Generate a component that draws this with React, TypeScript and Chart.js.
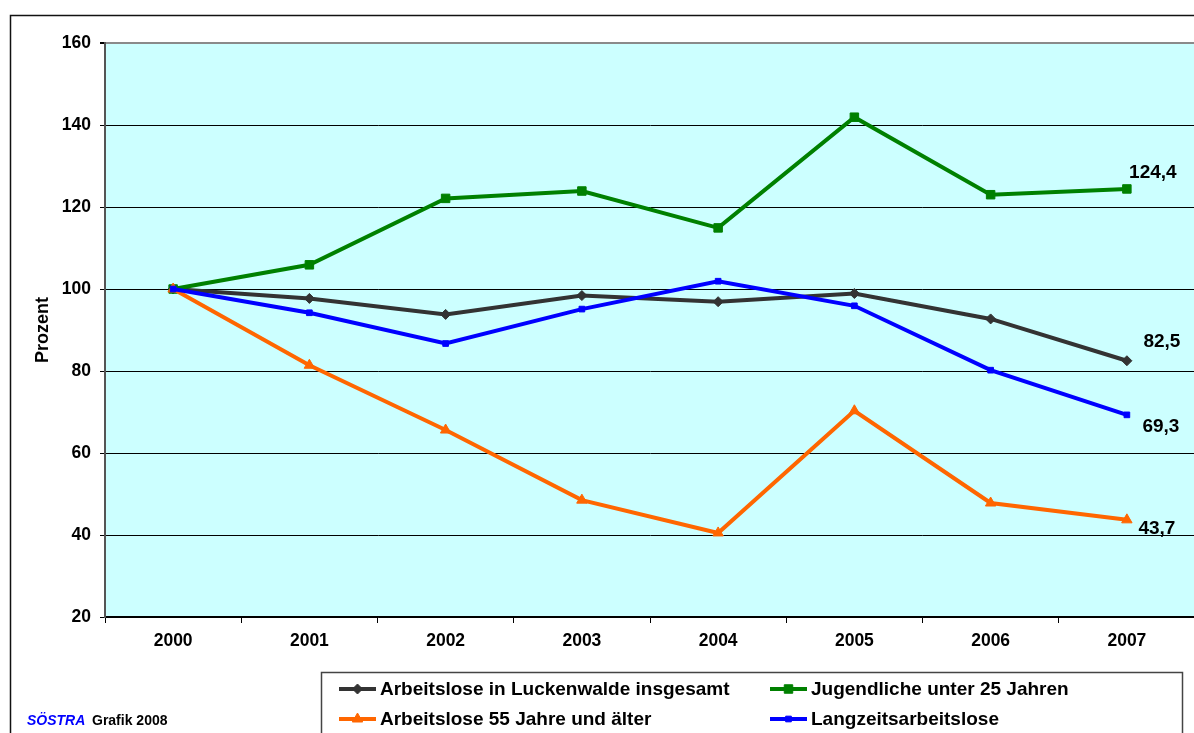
import React, { useEffect, useRef } from "react";
import { Chart, registerables } from "chart.js";

Chart.register(...registerables);

const years = ["2000", "2001", "2002", "2003", "2004", "2005", "2006", "2007"];
const totalValues = [100, 97.7, 93.8, 98.4, 96.9, 98.9, 92.7, 82.5];
const youthValues = [100, 105.9, 122.1, 123.9, 114.9, 141.9, 123.0, 124.4];
const olderValues = [100, 81.4, 65.6, 48.5, 40.5, 70.3, 47.8, 43.7];
const longTermValues = [100, 94.2, 86.7, 95.1, 101.9, 95.9, 80.2, 69.3];
const seriesLabels = [
  "Arbeitslose in Luckenwalde insgesamt",
  "Jugendliche unter 25 Jahren",
  "Arbeitslose 55 Jahre und älter",
  "Langzeitsarbeitslose",
];
const yMin = 20;
const yMax = 160;
const yStep = 20;
const yTitle = "Prozent";
const footBrand = "SÖSTRA";
const footText = "Grafik 2008";

const FONT = "'Liberation Sans', Arial, sans-serif";

const seriesStyles = [
  { color: "#333333", pointStyle: "rectRot", radius: 5, labelDx: 35, labelDy: -19 },
  { color: "#008000", pointStyle: "rect", radius: 6, labelDx: 26, labelDy: -16 },
  { color: "#FF6600", pointStyle: "triangle", radius: 6, labelDx: 30, labelDy: 9 },
  { color: "#0000FF", pointStyle: "rect", radius: 4, labelDx: 34, labelDy: 12 },
];
const drawOrder = [3, 2, 1, 0];

function drawMarker(ctx: CanvasRenderingContext2D, style: string, r: number, x: number, y: number, color: string) {
  ctx.save();
  ctx.fillStyle = color;
  ctx.strokeStyle = color;
  ctx.lineWidth = 1;
  ctx.beginPath();
  if (style === "rectRot") {
    ctx.moveTo(x, y - r);
    ctx.lineTo(x + r, y);
    ctx.lineTo(x, y + r);
    ctx.lineTo(x - r, y);
    ctx.closePath();
  } else if (style === "triangle") {
    const h = r * 1.5;
    const s = r * Math.sqrt(3);
    ctx.moveTo(x, y - r);
    ctx.lineTo(x + s / 2, y - r + h);
    ctx.lineTo(x - s / 2, y - r + h);
    ctx.closePath();
  } else {
    const s = Math.SQRT1_2 * r;
    ctx.rect(x - s, y - s, 2 * s, 2 * s);
  }
  ctx.fill();
  ctx.stroke();
  ctx.restore();
}

const decorPlugin = {
  id: "decor",
  beforeDraw(chart: any) {
    const { ctx, chartArea } = chart;
    ctx.save();
    ctx.fillStyle = "#CCFFFF";
    ctx.fillRect(chartArea.left, chartArea.top, chartArea.right - chartArea.left, chartArea.bottom - chartArea.top);
    ctx.restore();
  },
  afterDatasetsDraw(chart: any) {
    const { ctx } = chart;
    ctx.save();
    ctx.font = `bold 19px ${FONT}`;
    ctx.fillStyle = "#000";
    ctx.textAlign = "center";
    ctx.textBaseline = "middle";
    chart.data.datasets.forEach((ds: any, i: number) => {
      const meta = chart.getDatasetMeta(i);
      const n = meta.data.length;
      const pt = meta.data[n - 1];
      const v = ds.data[n - 1] as number;
      const st = seriesStyles[i];
      ctx.fillText(v.toFixed(1).replace(".", ","), pt.x + st.labelDx, pt.y + st.labelDy);
    });
    ctx.restore();
  },
  afterDraw(chart: any) {
    const { ctx } = chart;
    ctx.save();
    // outer frame
    ctx.strokeStyle = "#111";
    ctx.lineWidth = 1.5;
    ctx.beginPath();
    ctx.moveTo(10.5, 740);
    ctx.lineTo(10.5, 15.5);
    ctx.lineTo(1210, 15.5);
    ctx.stroke();

    // legend box
    ctx.strokeStyle = "#444";
    ctx.lineWidth = 1.5;
    ctx.strokeRect(321.5, 672.5, 861, 80);

    const cols = [339, 770];
    const rows = [689, 719];
    ctx.font = `bold 19px ${FONT}`;
    ctx.textAlign = "left";
    ctx.textBaseline = "middle";
    chart.data.datasets.forEach((ds: any, i: number) => {
      const x = cols[i % 2];
      const y = rows[Math.floor(i / 2)];
      const st = seriesStyles[i];
      ctx.strokeStyle = st.color;
      ctx.lineWidth = 4;
      ctx.beginPath();
      ctx.moveTo(x, y);
      ctx.lineTo(x + 37, y);
      ctx.stroke();
      drawMarker(ctx, st.pointStyle, st.radius, x + 18.5, y, st.color);
      ctx.fillStyle = "#000";
      ctx.fillText(ds.label, x + 41, y + 1);
    });

    // footnote
    ctx.textBaseline = "middle";
    ctx.font = `italic bold 14px ${FONT}`;
    ctx.fillStyle = "#0000FF";
    ctx.fillText(footBrand, 27, 721);
    ctx.font = `bold 14px ${FONT}`;
    ctx.fillStyle = "#000";
    ctx.fillText(footText, 92, 721);
    ctx.restore();
  },
};

export default function App() {
  const canvasRef = useRef<HTMLCanvasElement | null>(null);

  useEffect(() => {
    document.body.style.margin = "0";
    document.body.style.overflow = "hidden";
    const canvas = canvasRef.current;
    if (!canvas) return;
    Chart.defaults.font.family = FONT;
    const allSeries = [totalValues, youthValues, olderValues, longTermValues];
    const chart = new Chart(canvas, {
      type: "line",
      data: {
        labels: years,
        datasets: allSeries.map((values, i) => ({
          label: seriesLabels[i],
          data: values,
          borderColor: seriesStyles[i].color,
          backgroundColor: seriesStyles[i].color,
          borderWidth: 4,
          pointStyle: seriesStyles[i].pointStyle as any,
          pointRadius: seriesStyles[i].radius,
          pointBorderWidth: 1,
          pointBackgroundColor: seriesStyles[i].color,
          pointBorderColor: seriesStyles[i].color,
          tension: 0,
          fill: false,
          order: drawOrder[i],
        })),
      },
      options: {
        animation: false,
        responsive: true,
        maintainAspectRatio: false,
        layout: { padding: { left: 28, top: 43, right: 0, bottom: 76 } },
        plugins: {
          legend: { display: false },
          tooltip: { enabled: false },
        },
        scales: {
          x: {
            type: "category",
            offset: true,
            afterFit(scale: any) {
              scale.height = 40;
            },
            grid: {
              offset: true,
              drawOnChartArea: false,
              drawTicks: true,
              tickLength: 6,
              color: "#000",
            },
            border: { display: true, color: "#000", width: 1.5 },
            ticks: {
              color: "#000",
              font: { size: 17.5, weight: "bold", family: FONT },
              padding: 8,
              maxRotation: 0,
            },
          },
          y: {
            min: yMin,
            max: yMax,
            afterFit(scale: any) {
              scale.width = 77;
            },
            ticks: {
              stepSize: yStep,
              color: "#000",
              font: { size: 17.5, weight: "bold", family: FONT },
              padding: 9,
            },
            grid: {
              color: (c: any) => (c.tick && c.tick.value === yMax ? "#8a8a8a" : "#000"),
              lineWidth: (c: any) => (c.tick && c.tick.value === yMax ? 2 : 1),
              tickColor: "#000",
              tickLength: 5,
              drawTicks: true,
            },
            border: { display: true, color: "#555", width: 2 },
            title: {
              display: true,
              text: yTitle,
              color: "#000",
              font: { size: 18, weight: "bold", family: FONT },
              padding: { top: 4, bottom: 4 },
            },
          },
        },
      },
      plugins: [decorPlugin],
    });
    return () => chart.destroy();
  }, []);

  return (
    <div style={{ position: "fixed", left: 0, top: 0, width: 1202, height: 733 }}>
      <canvas ref={canvasRef} />
    </div>
  );
}
